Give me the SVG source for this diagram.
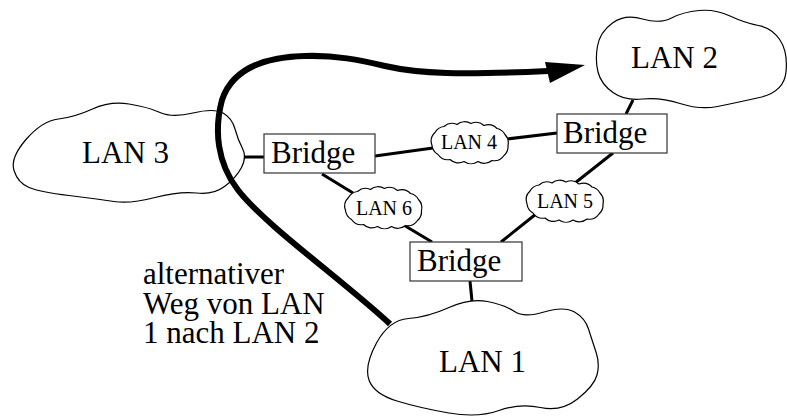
<svg xmlns="http://www.w3.org/2000/svg" width="787" height="416" viewBox="0 0 787 416">
<style>
.cloud{fill:#fff;stroke:#000;stroke-width:1.2;stroke-linejoin:round}
.box{fill:#fff;stroke:#333;stroke-width:1.2}
.big{font-family:"Liberation Serif","Times New Roman",serif;font-size:31px;fill:#000}
.small{font-family:"Liberation Serif","Times New Roman",serif;font-size:20px;fill:#000}
.conn{stroke:#000;stroke-width:3;fill:none}
.route{stroke:#000;stroke-width:6;fill:none}
</style>
<defs>
<path id="sc" d="M-38,3 A12 12 0 0 1 -35,-10 A12 12 0 0 1 -26,-16 A12 12 0 0 1 -13,-18 A12 12 0 0 1 1,-19 A12 12 0 0 1 14,-17 A12 12 0 0 1 27,-14 A12 12 0 0 1 35,-8 A12 12 0 0 1 38,3 A12 12 0 0 1 34,13 A12 12 0 0 1 22,18 A12 12 0 0 1 8,19 A12 12 0 0 1 -6,19 A12 12 0 0 1 -20,17 A12 12 0 0 1 -32,12 A12 12 0 0 1 -38,3 Z"/>
</defs>
<g id="connectors">
<line class="conn" x1="243" y1="157" x2="264" y2="157"/>
<line class="conn" x1="375" y1="156" x2="433" y2="148"/>
<line class="conn" x1="507" y1="139" x2="557" y2="133"/>
<line class="conn" x1="626" y1="114" x2="633" y2="100"/>
<line class="conn" x1="613" y1="153" x2="575" y2="183"/>
<line class="conn" x1="536" y1="214" x2="501" y2="242"/>
<line class="conn" x1="322" y1="174" x2="353" y2="193"/>
<line class="conn" x1="402" y1="224" x2="432" y2="242"/>
<line class="conn" x1="470" y1="281" x2="472" y2="301"/>
</g>
<g id="lan3">
<path class="cloud" d="M14,170.5 Q10,158 26,139.5 Q42,121 58.5,119 Q75,117 92.5,109 Q110,101 129,104 Q148,107 160,112.5 Q172,118 193,113 Q214,108 223,113 Q232,118 235,129 Q238,140 242.5,148.5 Q247,157 241.5,167.5 Q236,178 224.5,186.5 Q213,195 196.5,193 Q180,191 155,197.5 Q130,204 114,201.5 Q98,199 69,195.5 Q40,192 29,187.5 Q18,183 14,170.5 Z"/>
<text class="big" x="82" y="163">LAN 3</text>
</g>
<g id="lan2">
<path class="cloud" d="M597.5,46 Q600,32 612.5,23 Q625,14 642.5,19 Q660,24 671.5,18 Q683,12 699,10.5 Q715,9 730,16 Q745,23 758.5,25.5 Q772,28 780,40 Q788,52 786,72 Q784,92 759.5,97.5 Q735,103 717.5,106.5 Q700,110 680,103.5 Q660,97 642.5,99 Q625,101 613,92.5 Q601,84 598,72 Q595,60 597.5,46 Z"/>
<text class="big" x="631" y="68">LAN 2</text>
</g>
<g id="lan1">
<path class="cloud" d="M369,380 Q364,366 376.5,343 Q389,320 408.5,318.5 Q428,317 449,307.5 Q470,298 487.5,301.5 Q505,305 514.5,311.5 Q524,318 544,312 Q564,306 574.5,312 Q585,318 588.5,329 Q592,340 596,352 Q600,364 597,375 Q594,386 577.5,399 Q561,412 540.5,407.5 Q520,403 499,410.5 Q478,418 449,413 Q420,408 397,401 Q374,394 369,380 Z"/>
<text class="big" x="439" y="372">LAN 1</text>
</g>
<g id="lan4">
<use href="#sc" class="cloud" transform="translate(470,142.5)"/>
<text class="small" x="469" y="149" text-anchor="middle">LAN 4</text>
</g>
<g id="lan6">
<use href="#sc" class="cloud" transform="translate(383.5,207.5)"/>
<text class="small" x="384" y="215" text-anchor="middle">LAN 6</text>
</g>
<g id="lan5">
<use href="#sc" class="cloud" transform="translate(565,201)"/>
<text class="small" x="565" y="208" text-anchor="middle">LAN 5</text>
</g>
<g id="bridge1">
<rect class="box" x="264" y="134" width="111" height="39"/>
<text class="big" x="271" y="163">Bridge</text>
</g>
<g id="bridge2">
<rect class="box" x="557" y="114" width="110" height="39"/>
<text class="big" x="563" y="143">Bridge</text>
</g>
<g id="bridge3">
<rect class="box" x="410" y="242" width="112" height="39"/>
<text class="big" x="417" y="271">Bridge</text>
</g>
<g id="route">
<path class="route" d="M390,324 C345,282 265,225 238,190 C217,163 214,130 222,100 C232,70 262,57 305,56 C335,55 360,60 385,66 C420,74 460,75 548,71"/>
<polygon points="545,62 585,65 550,83" fill="#000"/>
<text class="big" x="143" y="284">alternativer</text>
<text class="big" x="143" y="314">Weg von LAN</text>
<text class="big" x="143" y="343">1 nach LAN 2</text>
</g>
</svg>
